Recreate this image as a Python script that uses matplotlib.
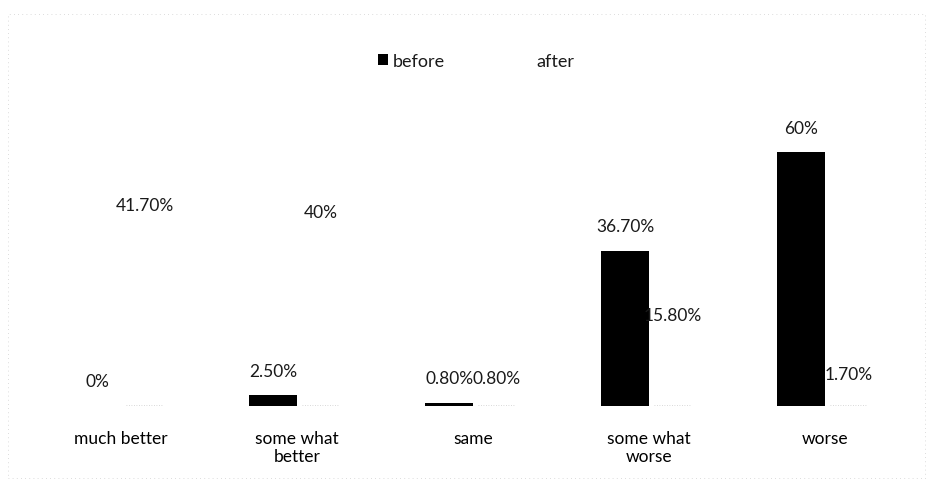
import numpy as np
import matplotlib.pyplot as plt
from matplotlib.patches import Rectangle

plt.rcParams['font.family'] = ['Lato', 'DejaVu Sans']
plt.rcParams['text.color'] = '#1a1a1a'

categories = ["much better", "some what\nbetter", "same", "some what\nworse", "worse"]
before = [0, 2.5, 0.8, 36.7, 60]
after = [41.7, 40, 0.8, 15.8, 1.7]
before_labels = ["0%", "2.50%", "0.80%", "36.70%", "60%"]
after_labels = ["41.70%", "40%", "0.80%", "15.80%", "1.70%"]

fig = plt.figure(figsize=(9.31, 4.89), dpi=100)
ax = fig.add_axes([33 / 931, 82 / 489, 880 / 931, 296 / 489])

x = np.arange(len(categories))
w = 0.27
b1 = ax.bar(x - w / 2, before, w, color="black", label="before")
b2 = ax.bar(x + w / 2, after, w, color="white", label="after")

# faint baseline under the white bars
for rect in b2:
    ax.plot([rect.get_x() + 0.03, rect.get_x() + rect.get_width() - 0.03], [0.3, 0.3],
            color="#cccccc", lw=0.6, ls=(0, (1, 2)))

for rect, txt in zip(b1, before_labels):
    ax.text(rect.get_x() + rect.get_width() / 2, rect.get_height() + 5.8, txt,
            ha="center", va="center", fontsize=12.5)
for rect, txt in zip(b2, after_labels):
    ax.text(rect.get_x() + rect.get_width() / 2, rect.get_height() + 5.8, txt,
            ha="center", va="center", fontsize=12.5)

ax.set_xlim(-0.5, len(categories) - 0.5)
ax.set_ylim(0, 70)
ax.set_xticks(x)
ax.set_xticklabels(categories, fontsize=12.5, linespacing=1.15)
ax.tick_params(axis="x", length=0, pad=17)
ax.set_yticks([])
for s in ax.spines.values():
    s.set_visible(False)

leg = fig.legend(loc="center", bbox_to_anchor=(476 / 931, 1 - 62 / 489), ncol=2,
                 frameon=False, fontsize=13, handlelength=0.55, handleheight=0.55,
                 handletextpad=0.3, columnspacing=4.2)

# faint dotted frame around the chart
fig.patches.append(Rectangle((8 / 931, 0.02), 0.985, 0.95, transform=fig.transFigure,
                             fill=False, edgecolor="#d0d0d0", linewidth=0.6,
                             linestyle=(0, (1, 4))))

fig.savefig("out.png", dpi=100)
